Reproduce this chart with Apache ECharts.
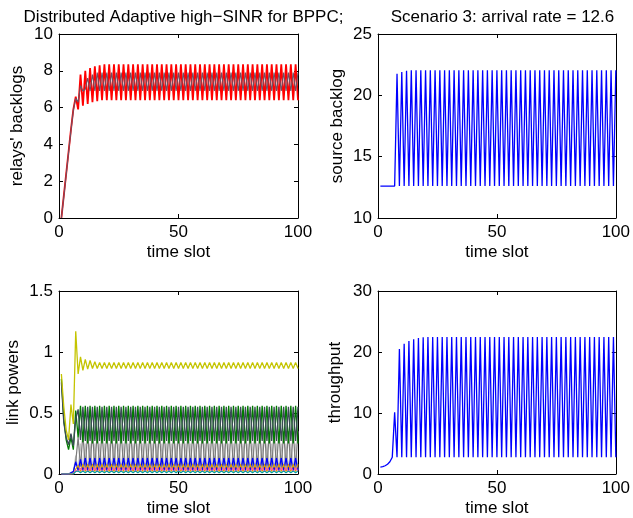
<!DOCTYPE html>
<html>
<head>
<meta charset="utf-8">
<script src="https://cdn.jsdelivr.net/npm/echarts@6/dist/echarts.min.js"></script>
<style>html,body{margin:0;padding:0;background:#fff;}#c{width:633px;height:518px;}</style>
</head>
<body>
<div id="c"></div>
<script>
var timeSlots = [
1,2,3,4,5,6,7,8,9,10,
11,12,13,14,15,16,17,18,19,20,
21,22,23,24,25,26,27,28,29,30,
31,32,33,34,35,36,37,38,39,40,
41,42,43,44,45,46,47,48,49,50,
51,52,53,54,55,56,57,58,59,60,
61,62,63,64,65,66,67,68,69,70,
71,72,73,74,75,76,77,78,79,80,
81,82,83,84,85,86,87,88,89,90,
91,92,93,94,95,96,97,98,99,100];

var titles = ["Distributed Adaptive high\u2212SINR for BPPC;", "Scenario 3: arrival rate = 12.6"];
var xTicks = [0, 50, 100];
var yNames = ["relays' backlogs", "source backlog", "link powers", "throughput"];

var relayRed = [
0,1.2,2.4,3.6,4.8,5.9,6.6,5.9,7.8,6.1,
8.0,6.2,8.15,6.3,8.25,6.35,8.3,6.4,8.35,6.4,
8.35,6.4,8.35,6.4,8.35,6.4,8.35,6.4,8.35,6.4,
8.35,6.4,8.35,6.4,8.35,6.4,8.35,6.4,8.35,6.4,
8.35,6.4,8.35,6.4,8.35,6.4,8.35,6.4,8.35,6.4,
8.35,6.4,8.35,6.4,8.35,6.4,8.35,6.4,8.35,6.4,
8.35,6.4,8.35,6.4,8.35,6.4,8.35,6.4,8.35,6.4,
8.35,6.4,8.35,6.4,8.35,6.4,8.35,6.4,8.35,6.4,
8.35,6.4,8.35,6.4,8.35,6.4,8.35,6.4,8.35,6.4,
8.35,6.4,8.35,6.4,8.35,6.4,8.35,6.4,8.35,6.4];

var relayGray = [
0,1.15,2.35,3.55,4.75,5.85,6.5,6.3,7.2,6.9,
7.0,7.6,6.9,7.8,6.9,7.9,6.9,7.9,6.9,7.9,
6.9,7.9,6.9,7.9,6.9,7.9,6.9,7.9,6.9,7.9,
6.9,7.9,6.9,7.9,6.9,7.9,6.9,7.9,6.9,7.9,
6.9,7.9,6.9,7.9,6.9,7.9,6.9,7.9,6.9,7.9,
6.9,7.9,6.9,7.9,6.9,7.9,6.9,7.9,6.9,7.9,
6.9,7.9,6.9,7.9,6.9,7.9,6.9,7.9,6.9,7.9,
6.9,7.9,6.9,7.9,6.9,7.9,6.9,7.9,6.9,7.9,
6.9,7.9,6.9,7.9,6.9,7.9,6.9,7.9,6.9,7.9,
6.9,7.9,6.9,7.9,6.9,7.9,6.9,7.9,6.9,7.9];

var sourceBacklog = [
12.6,12.6,12.6,12.6,12.6,12.6,12.6,21.75,12.6,21.9,
12.6,22.0,12.6,22.05,12.6,22.05,12.6,22.05,12.6,22.05,
12.6,22.05,12.6,22.05,12.6,22.05,12.6,22.05,12.6,22.05,
12.6,22.05,12.6,22.05,12.6,22.05,12.6,22.05,12.6,22.05,
12.6,22.05,12.6,22.05,12.6,22.05,12.6,22.05,12.6,22.05,
12.6,22.05,12.6,22.05,12.6,22.05,12.6,22.05,12.6,22.05,
12.6,22.05,12.6,22.05,12.6,22.05,12.6,22.05,12.6,22.05,
12.6,22.05,12.6,22.05,12.6,22.05,12.6,22.05,12.6,22.05,
12.6,22.05,12.6,22.05,12.6,22.05,12.6,22.05,12.6,22.05,
12.6,22.05,12.6,22.05,12.6,22.05,12.6,22.05,12.6,22.05];

var throughput = [
1.14,1.2,1.35,1.6,2.0,2.75,10.1,2.75,20.5,2.75,
21.35,2.75,21.8,2.75,22.1,2.75,22.3,2.75,22.4,2.75,
22.45,2.75,22.45,2.75,22.45,2.75,22.45,2.75,22.45,2.75,
22.45,2.75,22.45,2.75,22.45,2.75,22.45,2.75,22.45,2.75,
22.45,2.75,22.45,2.75,22.45,2.75,22.45,2.75,22.45,2.75,
22.45,2.75,22.45,2.75,22.45,2.75,22.45,2.75,22.45,2.75,
22.45,2.75,22.45,2.75,22.45,2.75,22.45,2.75,22.45,2.75,
22.45,2.75,22.45,2.75,22.45,2.75,22.45,2.75,22.45,2.75,
22.45,2.75,22.45,2.75,22.45,2.75,22.45,2.75,22.45,2.75,
22.45,2.75,22.45,2.75,22.45,2.75,22.45,2.75,22.45,2.75];

var powerYellow = [
0.82,0.55,0.36,0.28,0.57,0.41,1.17,0.82,0.96,0.85,
0.94,0.86,0.93,0.865,0.92,0.865,0.915,0.865,0.915,0.865,
0.915,0.865,0.915,0.865,0.915,0.865,0.915,0.865,0.915,0.865,
0.915,0.865,0.915,0.865,0.915,0.865,0.915,0.865,0.915,0.865,
0.915,0.865,0.915,0.865,0.915,0.865,0.915,0.865,0.915,0.865,
0.915,0.865,0.915,0.865,0.915,0.865,0.915,0.865,0.915,0.865,
0.915,0.865,0.915,0.865,0.915,0.865,0.915,0.865,0.915,0.865,
0.915,0.865,0.915,0.865,0.915,0.865,0.915,0.865,0.915,0.865,
0.915,0.865,0.915,0.865,0.915,0.865,0.915,0.865,0.915,0.865,
0.915,0.865,0.915,0.865,0.915,0.865,0.915,0.865,0.915,0.865];

var powerGreen = [
0.78,0.45,0.28,0.2,0.3,0.2,0.52,0.3,0.56,0.26,
0.56,0.25,0.56,0.25,0.56,0.25,0.56,0.25,0.56,0.25,
0.56,0.25,0.56,0.25,0.56,0.25,0.56,0.25,0.56,0.25,
0.56,0.25,0.56,0.25,0.56,0.25,0.56,0.25,0.56,0.25,
0.56,0.25,0.56,0.25,0.56,0.25,0.56,0.25,0.56,0.25,
0.56,0.25,0.56,0.25,0.56,0.25,0.56,0.25,0.56,0.25,
0.56,0.25,0.56,0.25,0.56,0.25,0.56,0.25,0.56,0.25,
0.56,0.25,0.56,0.25,0.56,0.25,0.56,0.25,0.56,0.25,
0.56,0.25,0.56,0.25,0.56,0.25,0.56,0.25,0.56,0.25,
0.56,0.25,0.56,0.25,0.56,0.25,0.56,0.25,0.56,0.25];

var powerSlate = [
0.75,0.42,0.3,0.24,0.33,0.23,0.45,0.53,0.28,0.55,
0.27,0.55,0.27,0.55,0.27,0.55,0.27,0.55,0.27,0.55,
0.27,0.55,0.27,0.55,0.27,0.55,0.27,0.55,0.27,0.55,
0.27,0.55,0.27,0.55,0.27,0.55,0.27,0.55,0.27,0.55,
0.27,0.55,0.27,0.55,0.27,0.55,0.27,0.55,0.27,0.55,
0.27,0.55,0.27,0.55,0.27,0.55,0.27,0.55,0.27,0.55,
0.27,0.55,0.27,0.55,0.27,0.55,0.27,0.55,0.27,0.55,
0.27,0.55,0.27,0.55,0.27,0.55,0.27,0.55,0.27,0.55,
0.27,0.55,0.27,0.55,0.27,0.55,0.27,0.55,0.27,0.55,
0.27,0.55,0.27,0.55,0.27,0.55,0.27,0.55,0.27,0.55];

var powerGray = [
0,0,0,0,0.01,0.02,0.1,0.3,0.06,0.33,
0.05,0.35,0.05,0.35,0.05,0.35,0.05,0.35,0.05,0.35,
0.05,0.35,0.05,0.35,0.05,0.35,0.05,0.35,0.05,0.35,
0.05,0.35,0.05,0.35,0.05,0.35,0.05,0.35,0.05,0.35,
0.05,0.35,0.05,0.35,0.05,0.35,0.05,0.35,0.05,0.35,
0.05,0.35,0.05,0.35,0.05,0.35,0.05,0.35,0.05,0.35,
0.05,0.35,0.05,0.35,0.05,0.35,0.05,0.35,0.05,0.35,
0.05,0.35,0.05,0.35,0.05,0.35,0.05,0.35,0.05,0.35,
0.05,0.35,0.05,0.35,0.05,0.35,0.05,0.35,0.05,0.35,
0.05,0.35,0.05,0.35,0.05,0.35,0.05,0.35,0.05,0.35];

var powerLightGray = [
0,0,0,0,0,0.01,0.15,0.03,0.25,0.03,
0.25,0.03,0.25,0.03,0.25,0.03,0.25,0.03,0.25,0.03,
0.25,0.03,0.25,0.03,0.25,0.03,0.25,0.03,0.25,0.03,
0.25,0.03,0.25,0.03,0.25,0.03,0.25,0.03,0.25,0.03,
0.25,0.03,0.25,0.03,0.25,0.03,0.25,0.03,0.25,0.03,
0.25,0.03,0.25,0.03,0.25,0.03,0.25,0.03,0.25,0.03,
0.25,0.03,0.25,0.03,0.25,0.03,0.25,0.03,0.25,0.03,
0.25,0.03,0.25,0.03,0.25,0.03,0.25,0.03,0.25,0.03,
0.25,0.03,0.25,0.03,0.25,0.03,0.25,0.03,0.25,0.03,
0.25,0.03,0.25,0.03,0.25,0.03,0.25,0.03,0.25,0.03];

var powerBlue = [
0,0,0,0,0.01,0.02,0.1,0.03,0.12,0.03,
0.13,0.03,0.13,0.03,0.13,0.03,0.13,0.03,0.13,0.03,
0.13,0.03,0.13,0.03,0.13,0.03,0.13,0.03,0.13,0.03,
0.13,0.03,0.13,0.03,0.13,0.03,0.13,0.03,0.13,0.03,
0.13,0.03,0.13,0.03,0.13,0.03,0.13,0.03,0.13,0.03,
0.13,0.03,0.13,0.03,0.13,0.03,0.13,0.03,0.13,0.03,
0.13,0.03,0.13,0.03,0.13,0.03,0.13,0.03,0.13,0.03,
0.13,0.03,0.13,0.03,0.13,0.03,0.13,0.03,0.13,0.03,
0.13,0.03,0.13,0.03,0.13,0.03,0.13,0.03,0.13,0.03,
0.13,0.03,0.13,0.03,0.13,0.03,0.13,0.03,0.13,0.03];

var powerOrange = [
0,0,0,0,0,0,0.04,0.07,0.02,0.08,
0.02,0.08,0.02,0.08,0.02,0.08,0.02,0.08,0.02,0.08,
0.02,0.08,0.02,0.08,0.02,0.08,0.02,0.08,0.02,0.08,
0.02,0.08,0.02,0.08,0.02,0.08,0.02,0.08,0.02,0.08,
0.02,0.08,0.02,0.08,0.02,0.08,0.02,0.08,0.02,0.08,
0.02,0.08,0.02,0.08,0.02,0.08,0.02,0.08,0.02,0.08,
0.02,0.08,0.02,0.08,0.02,0.08,0.02,0.08,0.02,0.08,
0.02,0.08,0.02,0.08,0.02,0.08,0.02,0.08,0.02,0.08,
0.02,0.08,0.02,0.08,0.02,0.08,0.02,0.08,0.02,0.08,
0.02,0.08,0.02,0.08,0.02,0.08,0.02,0.08,0.02,0.08];

var powerMagenta = [
0,0,0,0,0,0,0.03,0.02,0.05,0.02,
0.05,0.02,0.05,0.02,0.05,0.02,0.05,0.02,0.05,0.02,
0.05,0.02,0.05,0.02,0.05,0.02,0.05,0.02,0.05,0.02,
0.05,0.02,0.05,0.02,0.05,0.02,0.05,0.02,0.05,0.02,
0.05,0.02,0.05,0.02,0.05,0.02,0.05,0.02,0.05,0.02,
0.05,0.02,0.05,0.02,0.05,0.02,0.05,0.02,0.05,0.02,
0.05,0.02,0.05,0.02,0.05,0.02,0.05,0.02,0.05,0.02,
0.05,0.02,0.05,0.02,0.05,0.02,0.05,0.02,0.05,0.02,
0.05,0.02,0.05,0.02,0.05,0.02,0.05,0.02,0.05,0.02,
0.05,0.02,0.05,0.02,0.05,0.02,0.05,0.02,0.05,0.02];

var powerTeal = [
0,0,0,0,0,0,0.02,0.025,0.01,0.025,
0.01,0.025,0.01,0.025,0.01,0.025,0.01,0.025,0.01,0.025,
0.01,0.025,0.01,0.025,0.01,0.025,0.01,0.025,0.01,0.025,
0.01,0.025,0.01,0.025,0.01,0.025,0.01,0.025,0.01,0.025,
0.01,0.025,0.01,0.025,0.01,0.025,0.01,0.025,0.01,0.025,
0.01,0.025,0.01,0.025,0.01,0.025,0.01,0.025,0.01,0.025,
0.01,0.025,0.01,0.025,0.01,0.025,0.01,0.025,0.01,0.025,
0.01,0.025,0.01,0.025,0.01,0.025,0.01,0.025,0.01,0.025,
0.01,0.025,0.01,0.025,0.01,0.025,0.01,0.025,0.01,0.025,
0.01,0.025,0.01,0.025,0.01,0.025,0.01,0.025,0.01,0.025];

var FONT = '"Liberation Sans", Arial, sans-serif';
var grids = [
  {left: 59, top: 34, width: 239, height: 184},
  {left: 378, top: 34, width: 239, height: 184},
  {left: 59, top: 291, width: 239, height: 184},
  {left: 378, top: 291, width: 239, height: 184}
];
var yCfg = [
  {min: 0, max: 10, interval: 2, gap: 33},
  {min: 10, max: 25, interval: 5, gap: 32},
  {min: 0, max: 1.5, interval: 0.5, gap: 37},
  {min: 0, max: 30, interval: 10, gap: 34}
];

function pairs(arr) { return timeSlots.map(function (t, i) { return [t, arr[i]]; }); }

var xAxes = [], yAxes = [];
grids.forEach(function (g, i) {
  xAxes.push({
    type: 'value', gridIndex: i, min: xTicks[0], max: xTicks[xTicks.length - 1], interval: xTicks[1] - xTicks[0],
    position: 'bottom', name: 'time slot', nameLocation: 'middle', nameGap: 26,
    nameTextStyle: {fontFamily: FONT, fontSize: 17, color: '#000'},
    axisLine: {show: true, onZero: false, lineStyle: {color: '#000', width: 1}},
    axisTick: {show: true, inside: true, length: 4, lineStyle: {color: '#000'}},
    axisLabel: {fontFamily: FONT, fontSize: 17, color: '#000', margin: 6},
    splitLine: {show: false}
  });
  xAxes.push({
    type: 'value', gridIndex: i, min: xTicks[0], max: xTicks[xTicks.length - 1], interval: xTicks[1] - xTicks[0],
    position: 'top',
    axisLine: {show: true, onZero: false, lineStyle: {color: '#000', width: 1}},
    axisTick: {show: true, inside: true, length: 4, lineStyle: {color: '#000'}},
    axisLabel: {show: false}, splitLine: {show: false}
  });
  var c = yCfg[i];
  yAxes.push({
    type: 'value', gridIndex: i, min: c.min, max: c.max, interval: c.interval, position: 'left',
    name: yNames[i], nameLocation: 'middle', nameGap: c.gap,
    nameTextStyle: {fontFamily: FONT, fontSize: 17, color: '#000'},
    axisLine: {show: true, onZero: false, lineStyle: {color: '#000', width: 1}},
    axisTick: {show: true, inside: true, length: 4, lineStyle: {color: '#000'}},
    axisLabel: {fontFamily: FONT, fontSize: 17, color: '#000', margin: 6},
    splitLine: {show: false}
  });
  yAxes.push({
    type: 'value', gridIndex: i, min: c.min, max: c.max, interval: c.interval, position: 'right',
    axisLine: {show: true, onZero: false, lineStyle: {color: '#000', width: 1}},
    axisTick: {show: true, inside: true, length: 4, lineStyle: {color: '#000'}},
    axisLabel: {show: false}, splitLine: {show: false}
  });
});

function line(gi, arr, color, w) {
  return {
    type: 'line', xAxisIndex: gi * 2, yAxisIndex: gi * 2, data: pairs(arr),
    showSymbol: false, symbol: 'none', silent: true,
    lineStyle: {color: color, width: w || 1.2}, itemStyle: {color: color}
  };
}

var series = [
  line(0, relayRed, '#ff0000', 1.8),
  line(0, relayGray, '#6f5064', 1.1),
  line(1, sourceBacklog, '#0000ff', 1.3),
  line(2, powerLightGray, '#c4c4c4', 1.2),
  line(2, powerGray, '#7c7c7c', 1.2),
  line(2, powerGreen, '#007a00', 1.3),
  line(2, powerSlate, '#3b4a56', 1.3),
  line(2, powerBlue, '#0000ff', 1.3),
  line(2, powerOrange, '#e0a000', 1.1),
  line(2, powerMagenta, '#ff50b0', 1.1),
  line(2, powerTeal, '#00a0a0', 1.1),
  line(2, powerYellow, '#c4c400', 1.3),
  line(3, throughput, '#0000ff', 1.3)
];

var chart = echarts.init(document.getElementById('c'), null, {renderer: 'canvas'});
chart.setOption({
  animation: false,
  backgroundColor: '#fff',
  title: [
    {text: titles[0], left: 178.5, top: 4, textAlign: 'center',
     textStyle: {fontFamily: FONT, fontSize: 17, fontWeight: 'normal', color: '#000'}},
    {text: titles[1], left: 497.5, top: 4, textAlign: 'center',
     textStyle: {fontFamily: FONT, fontSize: 17, fontWeight: 'normal', color: '#000'}}
  ],
  grid: grids,
  xAxis: xAxes,
  yAxis: yAxes,
  series: series
});
</script>
</body>
</html>
